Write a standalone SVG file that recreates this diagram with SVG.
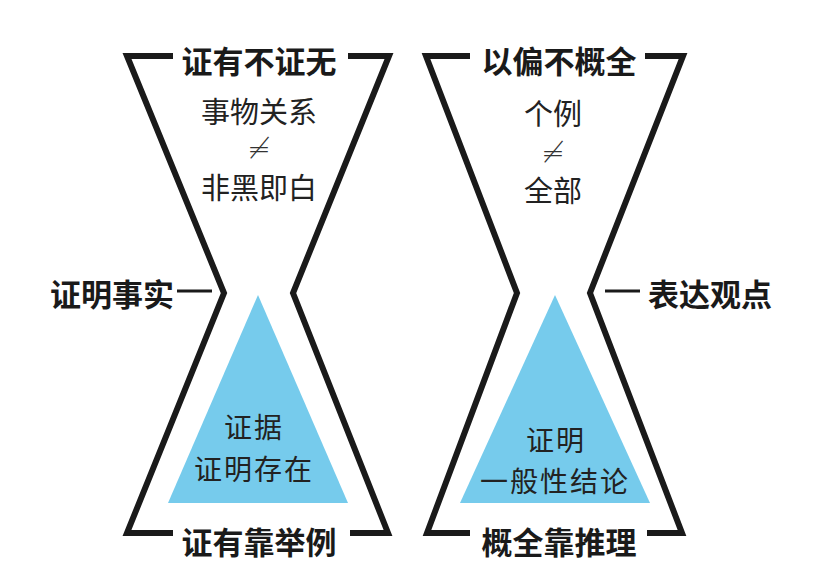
<svg xmlns="http://www.w3.org/2000/svg" width="819" height="573" viewBox="0 0 819 573">
  <style>
    .glass { fill: none; stroke: #1a1a1a; stroke-width: 6; stroke-linejoin: miter; stroke-linecap: butt; }
    .tri { fill: #76CBEC; }
    .head { font-family: "Noto Sans CJK SC", "Noto Sans", sans-serif; font-weight: 700; font-size: 31px; fill: #1a1a1a; dominant-baseline: central; }
    .body { font-family: "Noto Sans CJK SC", "Noto Sans", sans-serif; font-weight: 400; font-size: 29px; fill: #222; dominant-baseline: central; text-anchor: middle; }
    .inner { font-size: 28px; letter-spacing: 2px; }
    .mid { text-anchor: middle; }
    .neq { font-family: "DejaVu Sans", sans-serif; font-size: 28px; fill: #333; dominant-baseline: central; text-anchor: middle; font-weight: 300; }
    .conn { stroke: #1a1a1a; stroke-width: 3; fill: none; }
  </style>
  <rect width="819" height="573" fill="#ffffff"/>

  <g id="hourglass-left">
    <path class="glass" d="M173,56 H127 L224,293 L127,533 H173"/>
    <path class="glass" d="M348,56 H389 L293,293 L388,533 H350"/>
    <text class="head mid" x="259" y="59">证有不证无</text>
    <text class="head mid" x="259" y="540">证有靠举例</text>
    <text class="body" x="259" y="110">事物关系</text>
    <text class="neq" x="259" y="148">≠</text>
    <text class="body" x="259" y="186">非黑即白</text>
  </g>

  <g id="triangle-left">
    <polygon class="tri" points="258,295 348,503 168,503"/>
    <text class="body inner" x="254" y="426">证据</text>
    <text class="body inner" x="254" y="468">证明存在</text>
  </g>

  <g id="hourglass-right">
    <path class="glass" d="M470,56 H426 L517,293 L427,533 H470"/>
    <path class="glass" d="M645,56 H683 L590,293 L682,533 H647"/>
    <text class="head mid" x="559" y="59">以偏不概全</text>
    <text class="head mid" x="559" y="540">概全靠推理</text>
    <text class="body" x="553" y="112">个例</text>
    <text class="neq" x="553" y="152">≠</text>
    <text class="body" x="553" y="189">全部</text>
  </g>

  <g id="triangle-right">
    <polygon class="tri" points="555,295 650,503 460,503"/>
    <text class="body inner" x="556" y="439">证明</text>
    <text class="body inner" x="555" y="480">一般性结论</text>
  </g>

  <g id="label-left">
    <text class="head" x="50" y="292">证明事实</text>
  </g>
  <g id="label-right">
    <text class="head" x="648" y="292">表达观点</text>
  </g>

  <g id="connectors">
    <line class="conn" x1="177" y1="291" x2="212" y2="291"/>
    <line class="conn" x1="605" y1="291" x2="640" y2="291"/>
  </g>
</svg>
